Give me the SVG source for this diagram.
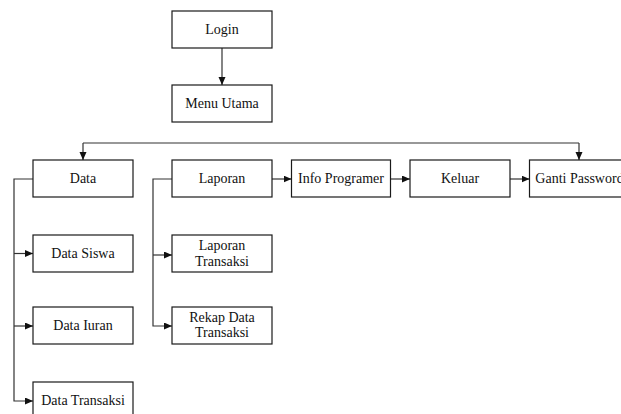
<svg xmlns="http://www.w3.org/2000/svg" width="621" height="414" viewBox="0 0 621 414">
  <style>
    .box { fill: #ffffff; stroke: #1a1a1a; stroke-width: 1.2; }
    .lbl { font-family: "Liberation Serif", "Times New Roman", serif; font-size: 14px; fill: #111111; text-anchor: middle; }
    .wire { fill: none; stroke: #333333; stroke-width: 1.2; }
  </style>
  <defs>
    <marker id="arrow" markerUnits="userSpaceOnUse" markerWidth="9" markerHeight="8" refX="8" refY="3.5" orient="auto">
      <path d="M0,0 L8,3.5 L0,7 z" fill="#111111"/>
    </marker>
  </defs>

  <rect width="621" height="414" fill="#ffffff"/>

  <!-- connectors -->
  <g id="connectors" class="wire">
    <path d="M222,48 V85" marker-end="url(#arrow)"/>
    <path d="M83,143 H579"/>
    <path d="M83,143 V160" marker-end="url(#arrow)"/>
    <path d="M579,143 V160" marker-end="url(#arrow)"/>
    <!-- Data branch -->
    <path d="M33,179 H14 V401 H33" marker-end="url(#arrow)"/>
    <path d="M14,253.5 H33" marker-end="url(#arrow)"/>
    <path d="M14,326 H33" marker-end="url(#arrow)"/>
    <!-- Laporan branch -->
    <path d="M172,179 H153 V326 H172" marker-end="url(#arrow)"/>
    <path d="M153,255 H172" marker-end="url(#arrow)"/>
    <!-- menu row -->
    <path d="M272,179 H291.5" marker-end="url(#arrow)"/>
    <path d="M390.5,179 H410" marker-end="url(#arrow)"/>
    <path d="M510,179 H529.5" marker-end="url(#arrow)"/>
  </g>

  <g id="login">
    <rect class="box" x="172" y="11" width="100" height="37"/>
    <text class="lbl" x="222" y="34">Login</text>
  </g>
  <g id="menu-utama">
    <rect class="box" x="172" y="85" width="100" height="37"/>
    <text class="lbl" x="222" y="108">Menu Utama</text>
  </g>
  <g id="data">
    <rect class="box" x="33" y="160" width="100" height="37"/>
    <text class="lbl" x="83" y="183">Data</text>
  </g>
  <g id="laporan">
    <rect class="box" x="172" y="160" width="100" height="37"/>
    <text class="lbl" x="222" y="183">Laporan</text>
  </g>
  <g id="info-programer">
    <rect class="box" x="291.5" y="160" width="99" height="37"/>
    <text class="lbl" x="341" y="183">Info Programer</text>
  </g>
  <g id="keluar">
    <rect class="box" x="410" y="160" width="100" height="37"/>
    <text class="lbl" x="460" y="183">Keluar</text>
  </g>
  <g id="ganti-password">
    <rect class="box" x="529.5" y="160" width="100" height="37"/>
    <text class="lbl" x="579.5" y="183">Ganti Password</text>
  </g>
  <g id="data-siswa">
    <rect class="box" x="33" y="235" width="100" height="37"/>
    <text class="lbl" x="83" y="258">Data Siswa</text>
  </g>
  <g id="data-iuran">
    <rect class="box" x="33" y="307" width="100" height="37"/>
    <text class="lbl" x="83" y="330">Data Iuran</text>
  </g>
  <g id="data-transaksi">
    <rect class="box" x="33" y="382" width="100" height="37"/>
    <text class="lbl" x="83" y="405">Data Transaksi</text>
  </g>
  <g id="laporan-transaksi">
    <rect class="box" x="172" y="235" width="100" height="37"/>
    <text class="lbl" x="222" y="250">Laporan</text>
    <text class="lbl" x="222" y="265.5">Transaksi</text>
  </g>
  <g id="rekap-data-transaksi">
    <rect class="box" x="172" y="307" width="100" height="37"/>
    <text class="lbl" x="222" y="321.5">Rekap Data</text>
    <text class="lbl" x="222" y="337">Transaksi</text>
  </g>
</svg>
